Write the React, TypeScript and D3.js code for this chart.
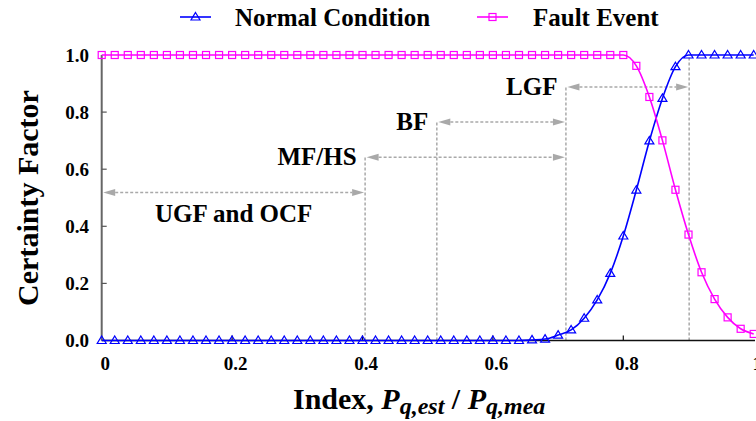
import React from "react";
import * as d3 from "d3";

// index values along the x axis
const indexValues = [
  0, 0.02, 0.04, 0.06, 0.08, 0.1, 0.12, 0.14, 0.16, 0.18, 0.2, 0.22, 0.24, 0.26,
  0.28, 0.3, 0.32, 0.34, 0.36, 0.38, 0.4, 0.42, 0.44, 0.46, 0.48, 0.5, 0.52,
  0.54, 0.56, 0.58, 0.6, 0.62, 0.64, 0.66, 0.68, 0.7, 0.72, 0.74, 0.76, 0.78,
  0.8, 0.82, 0.84, 0.86, 0.88, 0.9, 0.92, 0.94, 0.96, 0.98, 1.0,
];

// certainty factor, normal condition
const normalValues = [
  0, 0, 0, 0, 0, 0, 0, 0, 0, 0, 0, 0, 0, 0, 0, 0, 0, 0, 0, 0, 0, 0, 0, 0, 0, 0,
  0, 0, 0, 0, 0, 0, 0, 0.002, 0.005, 0.019, 0.037, 0.078, 0.142, 0.235, 0.366,
  0.527, 0.699, 0.848, 0.959, 1, 1, 1, 1, 1, 1,
];

// certainty factor, fault event
const faultValues = [
  1, 1, 1, 1, 1, 1, 1, 1, 1, 1, 1, 1, 1, 1, 1, 1, 1, 1, 1, 1, 1, 1, 1, 1, 1, 1,
  1, 1, 1, 1, 1, 1, 1, 1, 1, 1, 1, 1, 1, 1, 1, 0.962, 0.853, 0.701, 0.528,
  0.371, 0.239, 0.145, 0.081, 0.041, 0.023,
];

const xTicks = [0, 0.2, 0.4, 0.6, 0.8, 1];
const xTickLabels = ["0", "0.2", "0.4", "0.6", "0.8", "1"];
const yTicks = [0, 0.2, 0.4, 0.6, 0.8, 1];
const yTickLabels = ["0.0", "0.2", "0.4", "0.6", "0.8", "1.0"];

// fault ranges (double arrows)
const rangeLabels = ["UGF and OCF", "MF/HS", "BF", "LGF"];
const rangeFrom = [0, 0.404, 0.514, 0.712];
const rangeTo = [0.404, 0.712, 0.712, 0.901];
const rangeLevel = [0.518, 0.642, 0.765, 0.888];

// vertical guide lines
const guideX = [0.404, 0.514, 0.712, 0.901];
const guideTop = [0.642, 0.765, 0.888, 1.0];

const W = 756;
const H = 421;
const BLUE = "#0000ff";
const MAGENTA = "#ff00ff";
const GUIDE = "#a9a9a9";
const FONT = "'Liberation Serif', 'Times New Roman', serif";

const Triangle = ({ x, y, color }: { x: number; y: number; color: string }) => (
  <path
    d={`M${x},${y - 4.5} L${x + 4.5},${y + 3} L${x - 4.5},${y + 3} Z`}
    fill="none"
    stroke={color}
    strokeWidth={1.2}
  />
);

const Square = ({ x, y, color }: { x: number; y: number; color: string }) => (
  <rect
    x={x - 3.5}
    y={y - 3.5}
    width={7}
    height={7}
    fill="none"
    stroke={color}
    strokeWidth={1.2}
  />
);

const Arrow = ({ x1, x2, y }: { x1: number; x2: number; y: number }) => {
  const len = 12;
  const hw = 3.5;
  return (
    <g>
      <line
        x1={x1 + len}
        x2={x2 - len}
        y1={y}
        y2={y}
        stroke={GUIDE}
        strokeWidth={1.5}
        strokeDasharray="3,2"
      />
      <path d={`M${x1},${y} L${x1 + len},${y - hw} L${x1 + len},${y + hw} Z`} fill={GUIDE} />
      <path d={`M${x2},${y} L${x2 - len},${y - hw} L${x2 - len},${y + hw} Z`} fill={GUIDE} />
    </g>
  );
};

export default function App() {
  const x = d3.scaleLinear().domain([0, 1]).range([101.7, 753.7]);
  const y = d3.scaleLinear().domain([0, 1]).range([340.5, 55]);

  const normalPts = indexValues.map((v, i) => [v, normalValues[i]] as [number, number]);
  const faultPts = indexValues.map((v, i) => [v, faultValues[i]] as [number, number]);

  const line = d3
    .line<[number, number]>()
    .x((d) => x(d[0]))
    .y((d) => y(d[1]))
    .curve(d3.curveMonotoneX);

  return (
    <svg
      width={W}
      height={H}
      style={{ position: "absolute", left: 0, top: 0, background: "#fff" }}
      fontFamily={FONT}
      fontWeight="bold"
    >
      {/* guide lines */}
      {guideX.map((g, i) => (
        <line
          key={"g" + i}
          x1={x(g)}
          x2={x(g)}
          y1={y(0)}
          y2={y(guideTop[i])}
          stroke={GUIDE}
          strokeWidth={1.5}
          strokeDasharray="3,2"
        />
      ))}

      {/* range arrows */}
      {rangeLabels.map((lab, i) => {
        const x1 = x(rangeFrom[i]) + 1.5;
        const x2 = x(rangeTo[i]) - 1;
        const yy = y(rangeLevel[i]);
        return (
          <g key={lab}>
            <Arrow x1={x1} x2={x2} y={yy} />
            {rangeFrom[i] === 0 ? (
              <text x={(x1 + x2) / 2} y={yy + 29} textAnchor="middle" fontSize={25}>
                {lab}
              </text>
            ) : (
              <text x={x1 - 10} y={yy + 8} textAnchor="end" fontSize={25}>
                {lab}
              </text>
            )}
          </g>
        );
      })}

      {/* axes */}
      <line x1={x(0)} x2={x(0)} y1={y(0)} y2={y(1)} stroke="#666" strokeWidth={2} />
      <line x1={x(0)} x2={755} y1={y(0)} y2={y(0)} stroke="#111" strokeWidth={1.5} />
      {xTicks.map((t, i) => (
        <g key={"xt" + i}>
          {t > 0 && t < 1 && (
            <line x1={x(t)} x2={x(t)} y1={y(0)} y2={y(0) - 5} stroke="#111" strokeWidth={1.2} />
          )}
          <text x={x(t) + 3.5} y={y(0) + 29} textAnchor="middle" fontSize={19}>
            {xTickLabels[i]}
          </text>
        </g>
      ))}
      {yTicks.map((t, i) => (
        <g key={"yt" + i}>
          {t > 0 && t < 1 && (
            <line x1={x(0)} x2={x(0) + 5} y1={y(t)} y2={y(t)} stroke="#555" strokeWidth={1.2} />
          )}
          <text x={89} y={y(t) + 6.5} textAnchor="end" fontSize={19}>
            {yTickLabels[i]}
          </text>
        </g>
      ))}

      {/* series */}
      <path d={line(normalPts) ?? ""} fill="none" stroke={BLUE} strokeWidth={1.6} />
      <path d={line(faultPts) ?? ""} fill="none" stroke={MAGENTA} strokeWidth={1.6} />
      {faultPts.map((p, i) => (
        <Square key={"s" + i} x={x(p[0])} y={y(p[1])} color={MAGENTA} />
      ))}
      {normalPts.map((p, i) => (
        <Triangle key={"t" + i} x={x(p[0])} y={y(p[1])} color={BLUE} />
      ))}

      {/* axis titles */}
      <text
        transform={`translate(38,198) rotate(-90)`}
        textAnchor="middle"
        fontSize={30}
      >
        Certainty Factor
      </text>
      <text x={293} y={409} fontSize={30}>
        Index,{" "}
        <tspan fontStyle="italic">P</tspan>
        <tspan fontStyle="italic" fontSize={24} dy={5}>
          q,est
        </tspan>
        <tspan dy={-5}> / </tspan>
        <tspan fontStyle="italic">P</tspan>
        <tspan fontStyle="italic" fontSize={24} dy={5}>
          q,mea
        </tspan>
      </text>

      {/* legend */}
      <line x1={180} x2={211} y1={17} y2={17} stroke={BLUE} strokeWidth={1.6} />
      <Triangle x={195.5} y={17} color={BLUE} />
      <text x={235} y={25.5} fontSize={25}>
        Normal Condition
      </text>
      <line x1={477} x2={508} y1={17} y2={17} stroke={MAGENTA} strokeWidth={1.6} />
      <Square x={492.5} y={17} color={MAGENTA} />
      <text x={533} y={25.5} fontSize={25}>
        Fault Event
      </text>
    </svg>
  );
}
